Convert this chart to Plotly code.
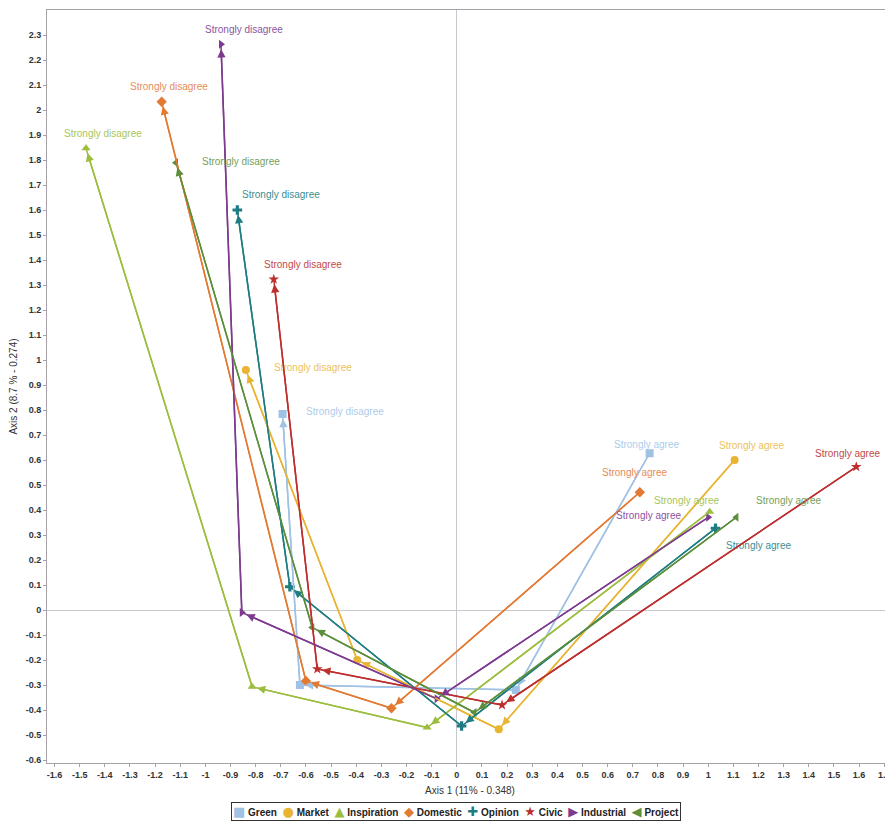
import plotly.graph_objects as go

series = ["Green", "Market", "Inspiration", "Domestic", "Opinion", "Civic", "Industrial", "Project"]
levels = ["Strongly disagree", "Disagree", "Agree", "Strongly agree"]

# coordinates per series, in order: Strongly disagree, Disagree, Agree, Strongly agree
x_green = [-0.693, -0.624, 0.235, 0.767]
y_green = [0.784, -0.300, -0.320, 0.627]
x_market = [-0.839, -0.396, 0.167, 1.105]
y_market = [0.960, -0.200, -0.477, 0.600]
x_inspiration = [-1.475, -0.814, -0.118, 1.006]
y_inspiration = [1.847, -0.307, -0.470, 0.393]
x_domestic = [-1.174, -0.600, -0.260, 0.728]
y_domestic = [2.033, -0.284, -0.393, 0.471]
x_opinion = [-0.873, -0.664, 0.019, 1.029]
y_opinion = [1.600, 0.093, -0.464, 0.327]
x_civic = [-0.728, -0.555, 0.180, 1.589]
y_civic = [1.323, -0.236, -0.380, 0.573]
x_industrial = [-0.938, -0.855, -0.080, 1.000]
y_industrial = [2.263, -0.010, -0.355, 0.371]
x_project = [-1.117, -0.575, 0.070, 1.112]
y_project = [1.789, -0.070, -0.410, 0.371]

xs = [x_green, x_market, x_inspiration, x_domestic, x_opinion, x_civic, x_industrial, x_project]
ys = [y_green, y_market, y_inspiration, y_domestic, y_opinion, y_civic, y_industrial, y_project]

x_tick_vals = [-1.6, -1.5, -1.4, -1.3, -1.2, -1.1, -1.0, -0.9, -0.8, -0.7, -0.6, -0.5, -0.4, -0.3, -0.2, -0.1,
               0.0, 0.1, 0.2, 0.3, 0.4, 0.5, 0.6, 0.7, 0.8, 0.9, 1.0, 1.1, 1.2, 1.3, 1.4, 1.5, 1.6, 1.7]
x_tick_text = ["-1.6", "-1.5", "-1.4", "-1.3", "-1.2", "-1.1", "-1", "-0.9", "-0.8", "-0.7", "-0.6", "-0.5", "-0.4",
               "-0.3", "-0.2", "-0.1", "0", "0.1", "0.2", "0.3", "0.4", "0.5", "0.6", "0.7", "0.8", "0.9", "1",
               "1.1", "1.2", "1.3", "1.4", "1.5", "1.6", "1.7"]
y_tick_vals = [-0.6, -0.5, -0.4, -0.3, -0.2, -0.1, 0.0, 0.1, 0.2, 0.3, 0.4, 0.5, 0.6, 0.7, 0.8, 0.9, 1.0,
               1.1, 1.2, 1.3, 1.4, 1.5, 1.6, 1.7, 1.8, 1.9, 2.0, 2.1, 2.2, 2.3]
y_tick_text = ["-0.6", "-0.5", "-0.4", "-0.3", "-0.2", "-0.1", "0", "0.1", "0.2", "0.3", "0.4", "0.5", "0.6",
               "0.7", "0.8", "0.9", "1", "1.1", "1.2", "1.3", "1.4", "1.5", "1.6", "1.7", "1.8", "1.9", "2",
               "2.1", "2.2", "2.3"]

# styles
FONT = "Liberation Sans, Arial, sans-serif"
colors = ["#9fc2e4", "#e8b432", "#9cbd3e", "#e27a33", "#1e7d82", "#bd2e2e", "#7d3a8f", "#5c8e3b"]
label_colors = ["#adcbea", "#ebc25a", "#a8c65a", "#e58d55", "#3d8e93", "#c34a4a", "#8d54a0", "#76a05a"]
symbols = ["square", "circle", "triangle-up", "diamond", "cross", "star", "triangle-right", "triangle-left"]
legend_glyphs = ["\u25A0", "\u25CF", "\u25B2", "\u25C6", "\u271A", "\u2605", "\u25B6", "\u25C0"]
# label pixel offsets (dx, dy) for Strongly disagree and Strongly agree labels
sd_shift = [(62, 3), (67, 3), (17, 15), (7, 15), (44, 16), (29, 15), (23, 15), (65, 1)]
sa_shift = [(-3, 9), (17, 15), (-23, 11), (-5, 20), (43, -17), (-9, 13), (-60, 2), (52, 17)]

fig = go.Figure()
annotations = []
for i, name in enumerate(series):
    c = colors[i]
    fig.add_trace(go.Scatter(
        x=xs[i], y=ys[i], mode="lines+markers", name=name, showlegend=False,
        text=levels, line=dict(color=c, width=1.5),
        marker=dict(symbol=symbols[i], size=8, color=c, line=dict(width=0)),
    ))
    # arrows go from Strongly agree toward Strongly disagree
    for k in range(len(levels) - 1, 0, -1):
        annotations.append(dict(
            x=xs[i][k - 1], y=ys[i][k - 1], ax=xs[i][k], ay=ys[i][k],
            xref="x", yref="y", axref="x", ayref="y", text="", showarrow=True,
            arrowhead=2, arrowsize=1.1, arrowwidth=1.5, arrowcolor=c, standoff=5,
        ))
    annotations.append(dict(
        x=xs[i][0], y=ys[i][0], xref="x", yref="y", text=levels[0], showarrow=False,
        xshift=sd_shift[i][0], yshift=sd_shift[i][1],
        font=dict(family=FONT, size=10, color=label_colors[i]),
    ))
    annotations.append(dict(
        x=xs[i][-1], y=ys[i][-1], xref="x", yref="y", text=levels[-1], showarrow=False,
        xshift=sa_shift[i][0], yshift=sa_shift[i][1],
        font=dict(family=FONT, size=10, color=label_colors[i]),
    ))

# boxed legend line below the axis title
legend_parts = []
for i, name in enumerate(series):
    legend_parts.append(
        "<span style='color:%s;font-size:13px;font-family:DejaVu Sans'>%s</span>&nbsp;<b>%s</b>"
        % (colors[i], legend_glyphs[i], name)
    )
annotations.append(dict(
    x=0.484, y=-0.065, xref="paper", yref="paper", xanchor="center", yanchor="middle",
    text="&nbsp;&nbsp;".join(legend_parts), showarrow=False,
    font=dict(family=FONT, size=10, color="#222222"),
    bordercolor="#333333", borderwidth=1, borderpad=1, bgcolor="white",
))

tickfont = dict(family=FONT, size=9, color="#333333", weight="bold")
axis_common = dict(
    tickfont=tickfont, showgrid=False, zeroline=True, zerolinecolor="#c8c8d0", zerolinewidth=1,
    showline=True, linecolor="#a8a0a8", linewidth=1, mirror=True,
    ticks="outside", ticklen=3, tickcolor="#a8a0a8", automargin=False,
    ticklabeloverflow="allow",
)
# page body adds an 8px offset, so the figure is sized to fit the window
fig.update_layout(
    width=885, height=814,
    margin=dict(l=39, r=0, t=2, b=59),
    plot_bgcolor="white", paper_bgcolor="white",
    showlegend=False,
    annotations=annotations,
    xaxis=dict(
        range=[-1.63, 1.735], tickvals=x_tick_vals, ticktext=x_tick_text,
        title=dict(text="Axis 1 (11% - 0.348)", standoff=8, font=dict(family=FONT, size=10, color="#333333")),
        **axis_common,
    ),
    yaxis=dict(
        range=[-0.612, 2.4], tickvals=y_tick_vals, ticktext=y_tick_text,
        title=dict(text="Axis 2 (8.7 % - 0.274)", standoff=6, font=dict(family=FONT, size=10, color="#333333")),
        **axis_common,
    ),
)

fig.write_html("out.html")
